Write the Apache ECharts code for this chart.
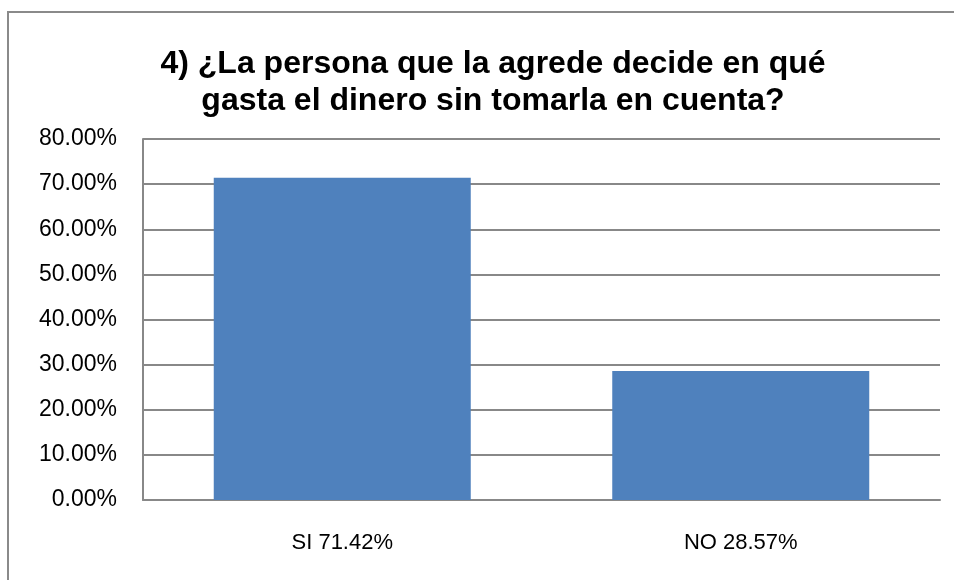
<!DOCTYPE html>
<html>
<head>
<meta charset="utf-8">
<script src="https://cdn.jsdelivr.net/npm/echarts@6/dist/echarts.min.js"></script>
<style>
  html, body { margin: 0; padding: 0; background: #fff; }
  #container { width: 954px; height: 580px; }
</style>
</head>
<body>
<div id="container"></div>
<script>
var categories = ['SI 71.42%', 'NO 28.57%'];
var values = [71.42, 28.57];
var titleText = '4) ¿La persona que la agrede decide en qué\ngasta el dinero sin tomarla en cuenta?';

var myChart = echarts.init(document.getElementById('container'));
var option = {
    animation: false,
    backgroundColor: '#fff',
    title: {
        text: titleText,
        left: 488,
        top: 41,
        textAlign: 'center',
        textStyle: {
            fontFamily: 'Liberation Sans',
            fontWeight: 'bold',
            fontSize: 32,
            lineHeight: 37,
            color: '#000'
        }
    },
    graphic: [
        {
            type: 'rect',
            shape: { x: 8, y: 12, width: 960, height: 600 },
            style: { fill: 'none', stroke: '#8a8a8a', lineWidth: 2 },
            silent: true
        }
    ],
    grid: {
        left: 143,
        right: 14,
        top: 139,
        bottom: 80
    },
    xAxis: {
        type: 'category',
        data: categories,
        axisLine: { lineStyle: { color: '#888', width: 2 } },
        axisTick: { show: false },
        axisLabel: {
            margin: 32,
            fontFamily: 'Liberation Sans',
            fontSize: 22,
            color: '#000'
        }
    },
    yAxis: {
        type: 'value',
        min: 0,
        max: 80,
        interval: 10,
        axisLine: { show: true, lineStyle: { color: '#888', width: 2 } },
        axisTick: { show: false },
        splitLine: { lineStyle: { color: '#888', width: 2 } },
        axisLabel: {
            margin: 26,
            fontFamily: 'Liberation Sans',
            fontSize: 23,
            color: '#000',
            formatter: function (v) { return v.toFixed(2) + '%'; }
        }
    },
    series: [
        {
            type: 'bar',
            data: values,
            barWidth: 257,
            itemStyle: { color: '#4F81BD' }
        }
    ]
};
myChart.setOption(option);
</script>
</body>
</html>
